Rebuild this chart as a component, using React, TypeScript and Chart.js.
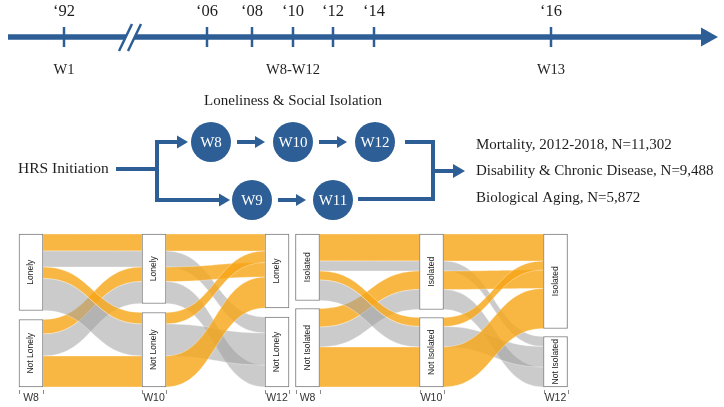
import React, { useEffect, useRef } from 'react';
import { Chart, registerables } from 'chart.js';
Chart.register(...registerables);

// ---------------- DATA ----------------
// Timeline
const yearLabels = ['\u201892', '\u201806', '\u201808', '\u201810', '\u201812', '\u201814', '\u201816'];
const years = [1992, 2006, 2008, 2010, 2012, 2014, 2016];
const waveMarks = ['W1', 'W8-W12', 'W13'];
const waveMarkYears = [1992, 2010, 2016];

// Study design
const designTitle = 'Loneliness & Social Isolation';
const startLabel = 'HRS Initiation';
const lonelinessWaves = ['W8', 'W10', 'W12'];
const isolationWaves = ['W9', 'W11'];
const outcomes = [
  'Mortality, 2012-2018, N=11,302',
  'Disability & Chronic Disease, N=9,488',
  'Biological Aging, N=5,872',
];

// Alluvial plots: each alluvium = one trajectory across W8, W10, W12 (0 = first state, 1 = "Not ...")
const waves = ['W8', 'W10', 'W12'];
const lonelyStates = ['Lonely', 'Not Lonely'];
const isolatedStates = ['Isolated', 'Not Isolated'];
const pathW8 = [0, 0, 1, 1, 0, 0, 1];
const pathW10 = [0, 0, 0, 0, 1, 1, 1];
const pathW12 = [0, 1, 0, 1, 0, 1, 0];
const lonelySize = [17, 16, 14.5, 22, 11.5, 32, 31];
const isolatedSize = [27, 10, 18.5, 20, 9, 20.5, 40];

// ---------------- STYLE / LAYOUT ----------------
const BLUE = '#2d5e96';
const ORANGE = 'rgba(246,166,25,0.82)';
const GRAY = 'rgba(160,160,160,0.55)';
const SERIF = '"Liberation Serif", "Times New Roman", serif';
const SANS = '"Liberation Sans", Arial, sans-serif';
const TEXT = '#1e1e1e';

// schematic (non-linear) position of each year on the drawn timeline, in top-panel units
const timelinePos = [64, 207, 252, 293, 333, 374, 551];
const TL = { y: 37, x0: 8, headBase: 701, tip: 718, headHalf: 9.5, yearY: 12, waveY: 70 };
const nodePos: Record<string, [number, number]> = {
  W8: [211, 142], W10: [293, 142], W12: [375, 142], W9: [252, 200], W11: [333, 200],
};
const NODE_R = 20;
const GAP = { lonely: 9, isolated: 8 };

function posOfYear(yr: number) {
  return timelinePos[years.indexOf(yr)];
}

function arrowHead(ctx: CanvasRenderingContext2D, tipX: number, y: number, len: number, half: number) {
  ctx.beginPath();
  ctx.moveTo(tipX, y);
  ctx.lineTo(tipX - len, y - half);
  ctx.lineTo(tipX - len, y + half);
  ctx.closePath();
  ctx.fill();
}

const topPlugin = {
  id: 'topDiagram',
  beforeDatasetsDraw(chart: any) {
    const { ctx } = chart;
    const xs = chart.scales.x;
    const ys = chart.scales.y;
    const X = (v: number) => xs.getPixelForValue(v);
    const Y = (v: number) => ys.getPixelForValue(v);
    ctx.save();
    ctx.strokeStyle = BLUE;
    ctx.fillStyle = BLUE;
    // timeline
    ctx.lineWidth = 5.5;
    ctx.beginPath();
    ctx.moveTo(X(TL.x0), Y(TL.y));
    ctx.lineTo(X(TL.headBase + 2), Y(TL.y));
    ctx.stroke();
    ctx.beginPath();
    ctx.moveTo(X(TL.tip), Y(TL.y));
    ctx.lineTo(X(TL.headBase), Y(TL.y - TL.headHalf));
    ctx.lineTo(X(TL.headBase), Y(TL.y + TL.headHalf));
    ctx.closePath();
    ctx.fill();
    // axis break
    ctx.fillStyle = '#ffffff';
    ctx.beginPath();
    ctx.moveTo(X(119), Y(51));
    ctx.lineTo(X(132), Y(24));
    ctx.lineTo(X(141), Y(24));
    ctx.lineTo(X(128), Y(51));
    ctx.closePath();
    ctx.fill();
    ctx.lineWidth = 2.5;
    ctx.beginPath();
    ctx.moveTo(X(119), Y(51));
    ctx.lineTo(X(132), Y(24));
    ctx.moveTo(X(128), Y(51));
    ctx.lineTo(X(141), Y(24));
    ctx.stroke();

    // design connectors
    ctx.fillStyle = BLUE;
    ctx.lineWidth = 4;
    ctx.lineJoin = 'miter';
    ctx.beginPath();
    ctx.moveTo(X(116), Y(169));
    ctx.lineTo(X(157), Y(169));
    ctx.moveTo(X(179), Y(142));
    ctx.lineTo(X(157), Y(142));
    ctx.lineTo(X(157), Y(200));
    ctx.lineTo(X(221), Y(200));
    // W8->W10, W10->W12, W9->W11
    ctx.moveTo(X(237), Y(142));
    ctx.lineTo(X(257), Y(142));
    ctx.moveTo(X(319), Y(142));
    ctx.lineTo(X(339), Y(142));
    ctx.moveTo(X(278), Y(200));
    ctx.lineTo(X(298), Y(200));
    // merge to outcomes
    ctx.moveTo(X(405), Y(142));
    ctx.lineTo(X(433), Y(142));
    ctx.lineTo(X(433), Y(199));
    ctx.lineTo(X(358), Y(199));
    ctx.moveTo(X(433), Y(171));
    ctx.lineTo(X(454), Y(171));
    ctx.stroke();
    arrowHead(ctx, X(188), Y(142), 11, 6.5);
    arrowHead(ctx, X(230), Y(200), 11, 6.5);
    arrowHead(ctx, X(265), Y(142), 10, 6);
    arrowHead(ctx, X(347), Y(142), 10, 6);
    arrowHead(ctx, X(306), Y(200), 10, 6);
    arrowHead(ctx, X(465), Y(171), 12, 7);
    ctx.restore();
  },
  afterDatasetsDraw(chart: any) {
    const { ctx } = chart;
    const xs = chart.scales.x;
    const ys = chart.scales.y;
    const X = (v: number) => xs.getPixelForValue(v);
    const Y = (v: number) => ys.getPixelForValue(v);
    ctx.save();
    ctx.fillStyle = TEXT;
    ctx.textAlign = 'center';
    ctx.textBaseline = 'middle';
    ctx.font = `16.5px ${SERIF}`;
    yearLabels.forEach((lab, i) => ctx.fillText(lab, X(timelinePos[i]), Y(TL.yearY)));
    ctx.font = `14.5px ${SERIF}`;
    waveMarks.forEach((lab, i) => ctx.fillText(lab, X(posOfYear(waveMarkYears[i])), Y(TL.waveY)));
    ctx.font = `15px ${SERIF}`;
    ctx.fillText(designTitle, X(293), Y(101));
    ctx.textAlign = 'left';
    ctx.font = `15.5px ${SERIF}`;
    ctx.fillText(startLabel, X(18), Y(169));
    ctx.font = `15px ${SERIF}`;
    const outY = [145, 171, 198];
    outcomes.forEach((t, i) => ctx.fillText(t, X(476), Y(outY[i])));
    ctx.textAlign = 'center';
    ctx.fillStyle = '#ffffff';
    [...lonelinessWaves, ...isolationWaves].forEach((w) => {
      const p = nodePos[w];
      ctx.fillText(w, X(p[0]), Y(p[1]) + 1);
    });
    ctx.restore();
  },
};

function stackPositions(paths: number[][], size: number[], gap: number) {
  const n = size.length;
  const result: { y0: number[]; y1: number[]; strata: [number, number][] }[] = [];
  paths.forEach((axisPath, a) => {
    const others = paths.map((_, k) => k).filter((k) => k !== a);
    const idx = Array.from({ length: n }, (_, i) => i).sort((p, q) => {
      if (axisPath[p] !== axisPath[q]) return axisPath[p] - axisPath[q];
      for (const k of others) {
        if (paths[k][p] !== paths[k][q]) return paths[k][p] - paths[k][q];
      }
      return p - q;
    });
    const y0 = new Array(n).fill(0);
    const y1 = new Array(n).fill(0);
    let cur = 0;
    let prevState = axisPath[idx[0]];
    const strata: [number, number][] = [];
    let sStart = 0;
    idx.forEach((i) => {
      if (axisPath[i] !== prevState) {
        strata.push([sStart, cur]);
        cur += gap;
        sStart = cur;
        prevState = axisPath[i];
      }
      y0[i] = cur;
      cur += size[i];
      y1[i] = cur;
    });
    strata.push([sStart, cur]);
    result.push({ y0, y1, strata });
  });
  return result;
}

function makeAlluvial(canvas: HTMLCanvasElement, size: number[], states: string[], gap: number, padL: number, padR: number) {
  const paths = [pathW8, pathW10, pathW12];
  const stacks = stackPositions(paths, size, gap);
  const total = size.reduce((s, v) => s + v, 0) + gap;
  const HW = 12;
  const plugin = {
    id: 'alluvium',
    beforeDatasetsDraw(chart: any) {
      const { ctx } = chart;
      const xs = chart.scales.x;
      const ys = chart.scales.y;
      ctx.save();
      for (let a = 0; a < paths.length - 1; a++) {
        const xA = xs.getPixelForValue(a) + HW;
        const xB = xs.getPixelForValue(a + 1) - HW;
        const mx = (xA + xB) / 2;
        size.forEach((_, i) => {
          const a0 = ys.getPixelForValue(stacks[a].y0[i]);
          const a1 = ys.getPixelForValue(stacks[a].y1[i]);
          const b0 = ys.getPixelForValue(stacks[a + 1].y0[i]);
          const b1 = ys.getPixelForValue(stacks[a + 1].y1[i]);
          ctx.beginPath();
          ctx.moveTo(xA, a0);
          ctx.bezierCurveTo(mx, a0, mx, b0, xB, b0);
          ctx.lineTo(xB, b1);
          ctx.bezierCurveTo(mx, b1, mx, a1, xA, a1);
          ctx.closePath();
          ctx.fillStyle = pathW12[i] === 0 ? ORANGE : GRAY;
          ctx.fill();
          ctx.strokeStyle = 'rgba(255,255,255,0.55)';
          ctx.lineWidth = 0.6;
          ctx.stroke();
        });
      }
      ctx.restore();
    },
    afterDatasetsDraw(chart: any) {
      const { ctx } = chart;
      const xs = chart.scales.x;
      const ys = chart.scales.y;
      ctx.save();
      ctx.fillStyle = '#222';
      ctx.textAlign = 'center';
      ctx.textBaseline = 'middle';
      waves.forEach((w, a) => {
        const cx = xs.getPixelForValue(a);
        stacks[a].strata.forEach((s, k) => {
          const cy = (ys.getPixelForValue(s[0]) + ys.getPixelForValue(s[1])) / 2;
          ctx.save();
          ctx.translate(cx, cy);
          ctx.rotate(-Math.PI / 2);
          ctx.font = `8.5px ${SANS}`;
          ctx.fillStyle = '#222';
          ctx.fillText(states[k], 0, 0);
          ctx.restore();
        });
        const by = chart.chartArea.bottom;
        ctx.strokeStyle = '#8a8a8a';
        ctx.lineWidth = 1;
        ctx.beginPath();
        ctx.moveTo(Math.round(cx - HW) + 0.5, by + 3);
        ctx.lineTo(Math.round(cx - HW) + 0.5, by + 7);
        ctx.moveTo(Math.round(cx + HW) + 0.5, by + 3);
        ctx.lineTo(Math.round(cx + HW) + 0.5, by + 7);
        ctx.stroke();
        ctx.font = `10.5px ${SANS}`;
        ctx.fillStyle = '#333';
        ctx.fillText(w, cx, by + 11);
      });
      ctx.restore();
    },
  };
  return new Chart(canvas, {
    type: 'bar',
    data: {
      labels: waves,
      datasets: [0, 1].map((k) => ({
        data: stacks.map((s) => s.strata[k]) as any,
        backgroundColor: '#ffffff',
        borderColor: '#7a7a7a',
        borderWidth: 1,
        borderSkipped: false,
        barThickness: HW * 2,
        grouped: false,
        clip: false as any,
      })),
    },
    options: {
      animation: false,
      responsive: false,
      events: [],
      layout: { autoPadding: false, padding: { left: padL, right: padR, top: 9, bottom: 20 } },
      plugins: { legend: { display: false }, tooltip: { enabled: false } },
      scales: {
        x: { type: 'category', offset: false, display: false },
        y: { type: 'linear', min: 0, max: total, reverse: true, display: false },
      },
    },
    plugins: [plugin],
  } as any);
}

export default function App() {
  const topRef = useRef<HTMLCanvasElement>(null);
  const leftRef = useRef<HTMLCanvasElement>(null);
  const rightRef = useRef<HTMLCanvasElement>(null);

  useEffect(() => {
    const charts: Chart[] = [];
    const allNodes = [...lonelinessWaves, ...isolationWaves];
    charts.push(
      new Chart(topRef.current!, {
        type: 'scatter',
        data: {
          datasets: [
            {
              data: years.map((_, i) => ({ x: timelinePos[i], y: TL.y })),
              pointStyle: 'line',
              rotation: 90,
              radius: 10,
              borderWidth: 2.5,
              borderColor: BLUE,
              backgroundColor: BLUE,
            },
            {
              data: allNodes.map((w) => ({ x: nodePos[w][0], y: nodePos[w][1] })),
              pointStyle: 'circle',
              radius: NODE_R,
              borderWidth: 0,
              backgroundColor: BLUE,
            },
          ],
        },
        options: {
          animation: false,
          responsive: false,
          events: [],
          layout: { autoPadding: false, padding: 0 },
          plugins: { legend: { display: false }, tooltip: { enabled: false } },
          scales: {
            x: { type: 'linear', min: 0, max: 724, display: false },
            y: { type: 'linear', min: 0, max: 225, reverse: true, display: false },
          },
        },
        plugins: [topPlugin],
      } as any)
    );
    charts.push(makeAlluvial(leftRef.current!, lonelySize, lonelyStates, GAP.lonely, 31, 15));
    charts.push(makeAlluvial(rightRef.current!, isolatedSize, isolatedStates, GAP.isolated, 17.5, 34.5));
    return () => charts.forEach((c) => c.destroy());
  }, []);

  return (
    <div style={{ position: 'fixed', left: 0, top: 0, width: 724, height: 407, background: '#ffffff', overflow: 'hidden' }}>
      <canvas ref={topRef} width={724} height={225} style={{ position: 'absolute', left: 0, top: 0, width: 724, height: 225 }} />
      <canvas ref={leftRef} width={292} height={182} style={{ position: 'absolute', left: 0, top: 225, width: 292, height: 182 }} />
      <canvas ref={rightRef} width={300} height={182} style={{ position: 'absolute', left: 290, top: 225, width: 300, height: 182 }} />
    </div>
  );
}
